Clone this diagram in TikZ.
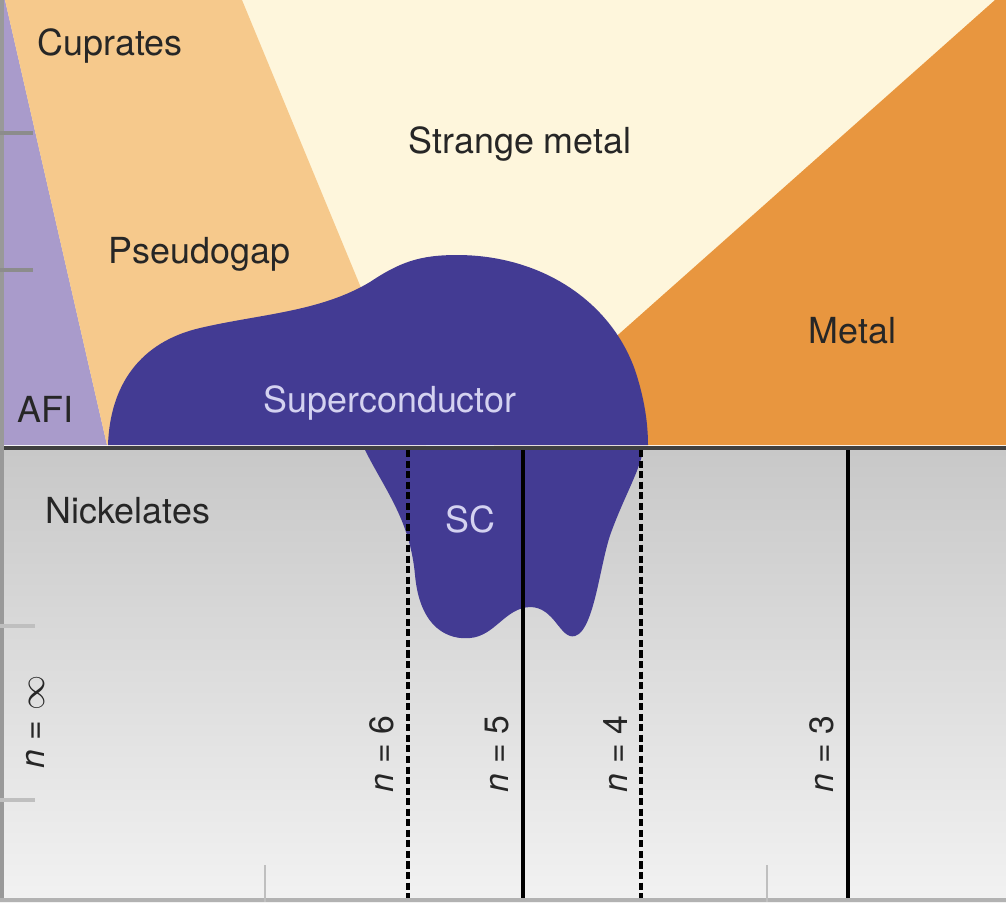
\documentclass[tikz,border=0pt]{standalone}
\usepackage{fontspec}
\setmainfont{TeX Gyre Heros}
\definecolor{afi}{HTML}{A99BCB}
\definecolor{pseudo}{HTML}{F6C98C}
\definecolor{strange}{HTML}{FEF6DC}
\definecolor{metal}{HTML}{E8963F}
\definecolor{sc}{HTML}{433B93}
\definecolor{sctext}{HTML}{D4D2F0}
\definecolor{nitop}{HTML}{C8C8C8}
\definecolor{nibot}{HTML}{F2F2F2}
\begin{document}
\begin{tikzpicture}[x=0.01cm,y=-0.01cm,
  lbl/.style={anchor=base west,inner sep=0,text=black!85,font=\fontsize{10.2}{12}\selectfont},
  nlbl/.style={rotate=90,inner sep=0,text=black!85,font=\fontsize{9.6}{12}\selectfont},
  nline/.style={line width=1pt},
  dline/.style={line width=1.3pt,dash pattern=on 2pt off 1pt}]
\useasboundingbox (0,0) rectangle (1006,902);
% cuprates
\fill[strange] (0,0) rectangle (1006,445);
\fill[afi] (0,0)--(5,0)--(107,445)--(0,445)--cycle;
\fill[pseudo] (5,0)--(242,0)--(426,445)--(107,445)--cycle;
\fill[metal] (995,0)--(1006,0)--(1006,445)--(494,445)--cycle;
\fill[sc] (108,445) .. controls (110,385) and (140,342) .. (200,328)
  .. controls (260,314) and (320,312) .. (370,282)
  .. controls (400,262) and (420,255) .. (457,255)
  .. controls (540,255) and (610,300) .. (635,370)
  .. controls (645,400) and (648,425) .. (648,445) -- cycle;
% nickelates
\shade[top color=nitop,bottom color=nibot] (0,450) rectangle (1006,902);
\fill[sc] (365,450) .. controls (385,490) and (410,520) .. (415,575)
  .. controls (420,630) and (450,640) .. (470,638)
  .. controls (495,636) and (505,608) .. (530,607)
  .. controls (555,607) and (560,640) .. (575,636)
  .. controls (595,630) and (600,560) .. (612,530)
  .. controls (625,495) and (640,470) .. (643,450) -- cycle;
\draw[line width=1.4pt,black!75] (0,448)--(1006,448);
\draw[nline] (523,450)--(523,902);
\draw[nline] (848,450)--(848,902);
\draw[dline] (408,450)--(408,902);
\draw[dline] (641,450)--(641,902);
% axes
\draw[line width=1.2pt,black!40] (2,0)--(2,902);
\draw[line width=1.2pt,black!30] (0,900)--(1006,900);
\draw[line width=1pt,black!45] (0,133)--(33,133) (0,270)--(33,270);
\draw[line width=1pt,black!25] (0,626)--(35,626) (0,800)--(35,800);
\draw[line width=0.8pt,black!25] (265,865)--(265,902) (767,865)--(767,902);
% labels
\node[lbl] (cup) at (37,55) {Cuprates};
\node[lbl] (sm) at (408,153) {Strange metal};
\node[lbl] (pg) at (108,263) {Pseudogap};
\node[lbl] (met) at (808,343) {Metal};
\node[lbl] (afi) at (17,422) {AFI};
\node[lbl,text=sctext] (sup) at (263,412) {Superconductor};
\node[lbl] (nic) at (45,523) {Nickelates};
\node[lbl,text=sctext] (scn) at (445,532) {SC};
\node[nlbl] (ninf) at (35,722) {\textit{n} = $\infty$};
\node[nlbl] (nsix) at (382,754) {\textit{n} = 6};
\node[nlbl] (nfive) at (497,754) {\textit{n} = 5};
\node[nlbl] (nfour) at (616,754) {\textit{n} = 4};
\node[nlbl] (nthree) at (822,754) {\textit{n} = 3};
\end{tikzpicture}
\end{document}
